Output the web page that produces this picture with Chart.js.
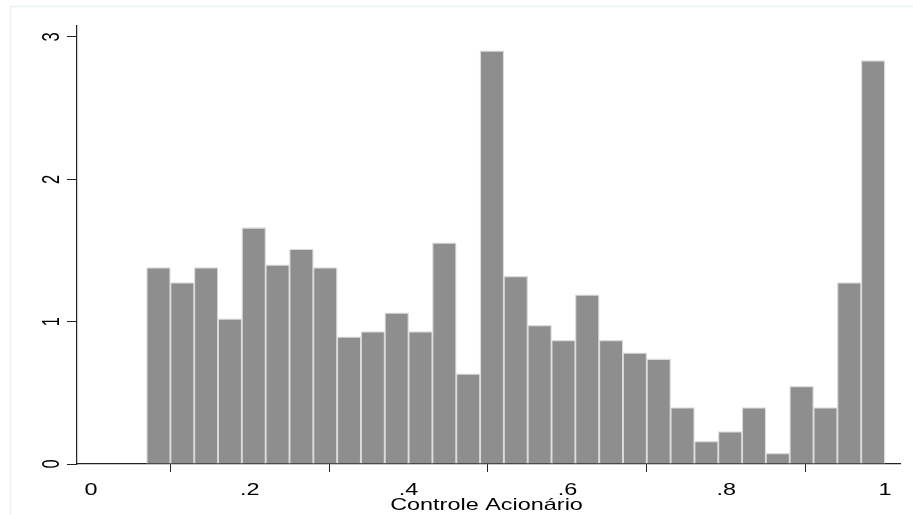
<!DOCTYPE html>
<html>
<head>
<meta charset="utf-8">
<script src="https://cdn.jsdelivr.net/npm/chart.js@4"></script>
<style>
  html, body { margin: 0; padding: 0; background: #ffffff; }
  #wrap { width: 913px; height: 515px; position: relative; }
</style>
</head>
<body>
<div id="wrap"><canvas id="c" width="913" height="515"></canvas></div>
<script>
// Bin centres of the histogram (Controle Acionário)
const binCenters = [0.085, 0.115, 0.145, 0.175, 0.205, 0.235, 0.265, 0.295, 0.325, 0.355,
                    0.385, 0.415, 0.445, 0.475, 0.505, 0.535, 0.565, 0.595, 0.625, 0.655,
                    0.685, 0.715, 0.745, 0.775, 0.805, 0.835, 0.865, 0.895, 0.925, 0.955, 0.985];
// Density values
const densities = [1.38, 1.275, 1.38, 1.02, 1.66, 1.40, 1.51, 1.38, 0.893, 0.93,
                   1.062, 0.93, 1.554, 0.633, 2.903, 1.319, 0.975, 0.869, 1.188, 0.869,
                   0.781, 0.738, 0.396, 0.16, 0.228, 0.396, 0.075, 0.546, 0.396, 1.275, 2.834];
// Tick labels
const xTicks = [0, 0.2, 0.4, 0.6, 0.8, 1];
const xTickLabels = ['0', '.2', '.4', '.6', '.8', '1'];
const yTicks = [0, 1, 2, 3];
const yTickLabels = ['0', '1', '2', '3'];
const xTitle = 'Controle Acionário';

const FONT = "'Liberation Sans', Arial, sans-serif";
const FONT_SIZE = 16.5;
const STRETCH = 1.42; // the reference text is horizontally stretched

const framePlugin = {
  id: 'frame',
  beforeDraw(chart) {
    const ctx = chart.ctx;
    ctx.save();
    ctx.strokeStyle = '#e9f0f3';
    ctx.lineWidth = 1.5;
    ctx.beginPath();
    ctx.moveTo(10.5, 520);
    ctx.lineTo(10.5, 6.5);
    ctx.lineTo(920, 6.5);
    ctx.stroke();
    ctx.restore();
  }
};

// Draws tick labels and axis title as stretched text, positioned by the library's scales
const stretchedTextPlugin = {
  id: 'stretchedText',
  afterDraw(chart) {
    const ctx = chart.ctx;
    const xs = chart.scales.x, ys = chart.scales.y;
    ctx.save();
    ctx.fillStyle = '#000';
    ctx.font = FONT_SIZE + 'px ' + FONT;
    ctx.textAlign = 'center';
    ctx.textBaseline = 'alphabetic';
    // x tick labels
    xTicks.forEach((v, i) => {
      const px = xs.getPixelForValue(v);
      ctx.save();
      ctx.translate(px, xs.top + 30.5);
      ctx.scale(STRETCH, 1);
      ctx.fillText(xTickLabels[i], 0, 0);
      ctx.restore();
    });
    // y tick labels (rotated)
    yTicks.forEach((v, i) => {
      const py = ys.getPixelForValue(v);
      ctx.save();
      ctx.translate(ys.right - 18.5, py);
      ctx.scale(STRETCH, 1);
      ctx.rotate(-Math.PI / 2);
      ctx.fillText(yTickLabels[i], 0, 0);
      ctx.restore();
    });
    // x axis title
    ctx.save();
    ctx.translate((chart.chartArea.left + chart.chartArea.right) / 2 - 2, xs.top + 46);
    ctx.scale(STRETCH, 1);
    ctx.fillText(xTitle, 0, 0);
    ctx.restore();
    ctx.restore();
  }
};

new Chart(document.getElementById('c'), {
  type: 'bar',
  data: {
    datasets: [{
      data: binCenters.map((x, i) => ({ x: x, y: densities[i] })),
      backgroundColor: '#8e8e8e',
      borderColor: '#dcdcdc',
      borderWidth: 1.3,
      barPercentage: 1,
      categoryPercentage: 1
    }]
  },
  options: {
    responsive: false,
    animation: false,
    devicePixelRatio: 1,
    layout: { padding: { left: 0, top: 26, right: 13, bottom: 0 } },
    plugins: { legend: { display: false }, tooltip: { enabled: false } },
    scales: {
      x: {
        type: 'linear',
        offset: false,
        min: -0.01763,
        max: 1.01889,
        afterBuildTicks: s => { s.ticks = xTicks.map(v => ({ value: v })); },
        afterFit: s => { s.height = 51; },
        grid: { drawOnChartArea: false, drawTicks: true, tickLength: 8, color: '#222', lineWidth: 1 },
        border: { display: true, color: '#222', width: 1.2 },
        ticks: { display: false, autoSkip: false },
        title: { display: false, text: xTitle }
      },
      y: {
        min: 0,
        max: 3.077,
        afterBuildTicks: s => { s.ticks = yTicks.map(v => ({ value: v })); },
        afterFit: s => { s.width = 77; },
        grid: { drawOnChartArea: false, drawTicks: true, tickLength: 10, color: '#222', lineWidth: 1 },
        border: { display: true, color: '#222', width: 1.2 },
        ticks: { display: false }
      }
    }
  },
  plugins: [framePlugin, stretchedTextPlugin]
});
</script>
</body>
</html>
